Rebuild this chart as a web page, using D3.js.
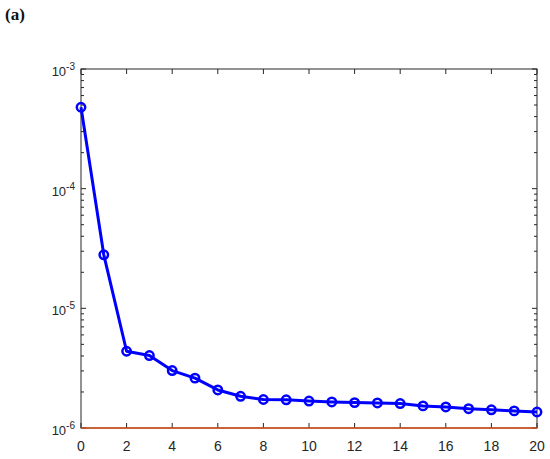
<!DOCTYPE html>
<html>
<head>
<meta charset="utf-8">
<script src="https://cdn.jsdelivr.net/npm/d3@7"></script>
<style>
  html, body { margin: 0; padding: 0; background: #fff; }
  svg { display: block; }
</style>
</head>
<body>
<script>
// ---- data ----
const iterations = [0,1,2,3,4,5,6,7,8,9,10,11,12,13,14,15,16,17,18,19,20];
const errorValues = [4.79e-4, 2.8e-5, 4.38e-6, 4.03e-6, 3.02e-6, 2.61e-6, 2.08e-6, 1.84e-6,
  1.73e-6, 1.72e-6, 1.68e-6, 1.65e-6, 1.63e-6, 1.62e-6, 1.60e-6, 1.53e-6, 1.50e-6,
  1.45e-6, 1.42e-6, 1.39e-6, 1.36e-6];
const referenceValues = [1e-6, 1e-6];
const referenceIters = [0, 20];
const xTicks = [0,2,4,6,8,10,12,14,16,18,20];
const yTickExponents = [-3,-4,-5,-6];
const panelLabel = "(a)";

// ---- layout ----
const W = 550, H = 459;
const m = {left: 81, right: 13, top: 69, bottom: 31};
const pw = W - m.left - m.right, ph = H - m.top - m.bottom;
const axisColor = "#262626";
const font = "'Liberation Sans', Arial, Helvetica, sans-serif";

const svg = d3.select("body").append("svg").attr("width", W).attr("height", H);

svg.append("text").attr("x", 5).attr("y", 20)
  .attr("font-family", "'Liberation Serif', 'DejaVu Serif', serif")
  .attr("font-weight", "bold").attr("font-size", 17).attr("fill", "#111")
  .text(panelLabel);

const x = d3.scaleLinear().domain([0, 20]).range([m.left, m.left + pw]);
const y = d3.scaleLog().domain([1e-6, 1e-3]).range([m.top + ph, m.top]);

const g = svg.append("g");

// frame
g.append("rect").attr("x", m.left).attr("y", m.top).attr("width", pw).attr("height", ph)
  .attr("fill", "none").attr("stroke", axisColor).attr("stroke-width", 1);

// x ticks (bottom and top, inward)
xTicks.forEach(t => {
  g.append("line").attr("x1", x(t)).attr("x2", x(t)).attr("y1", m.top + ph).attr("y2", m.top + ph - 5)
    .attr("stroke", axisColor);
  g.append("line").attr("x1", x(t)).attr("x2", x(t)).attr("y1", m.top).attr("y2", m.top + 5)
    .attr("stroke", axisColor);
  g.append("text").attr("x", x(t)).attr("y", m.top + ph + 23)
    .attr("text-anchor", "middle").attr("font-family", font).attr("font-size", 14)
    .attr("fill", axisColor).text(t);
});

// y ticks: major and minor, left and right
for (let e = -6; e < -3; e++) {
  for (let k = 2; k <= 9; k++) {
    const yy = y(k * Math.pow(10, e));
    g.append("line").attr("x1", m.left).attr("x2", m.left + 3).attr("y1", yy).attr("y2", yy).attr("stroke", axisColor);
    g.append("line").attr("x1", m.left + pw).attr("x2", m.left + pw - 3).attr("y1", yy).attr("y2", yy).attr("stroke", axisColor);
  }
}
yTickExponents.forEach(e => {
  const yy = y(Math.pow(10, e));
  g.append("line").attr("x1", m.left).attr("x2", m.left + 5).attr("y1", yy).attr("y2", yy).attr("stroke", axisColor);
  g.append("line").attr("x1", m.left + pw).attr("x2", m.left + pw - 5).attr("y1", yy).attr("y2", yy).attr("stroke", axisColor);
  const t = g.append("text").attr("x", m.left - 6).attr("y", yy + 7)
    .attr("text-anchor", "end").attr("font-family", font).attr("font-size", 13).attr("fill", axisColor);
  t.append("tspan").text("10");
  t.append("tspan").attr("dy", -6).attr("font-size", 10).text(String(e).replace("-", "-"));
});

// reference (orange) line
const refLine = d3.line().x((d, i) => x(referenceIters[i])).y(d => y(d));
g.append("path").datum(referenceValues).attr("d", refLine)
  .attr("fill", "none").attr("stroke", "#D95319").attr("stroke-width", 1.5);

// main series
const line = d3.line().x((d, i) => x(iterations[i])).y(d => y(d));
g.append("path").datum(errorValues).attr("d", line)
  .attr("fill", "none").attr("stroke", "#0000FF").attr("stroke-width", 3).attr("stroke-linejoin", "round");

g.selectAll("circle.pt").data(errorValues).enter().append("circle")
  .attr("class", "pt")
  .attr("cx", (d, i) => x(iterations[i])).attr("cy", d => y(d)).attr("r", 4.2)
  .attr("fill", "none").attr("stroke", "#0000FF").attr("stroke-width", 2.5);
</script>
</body>
</html>
